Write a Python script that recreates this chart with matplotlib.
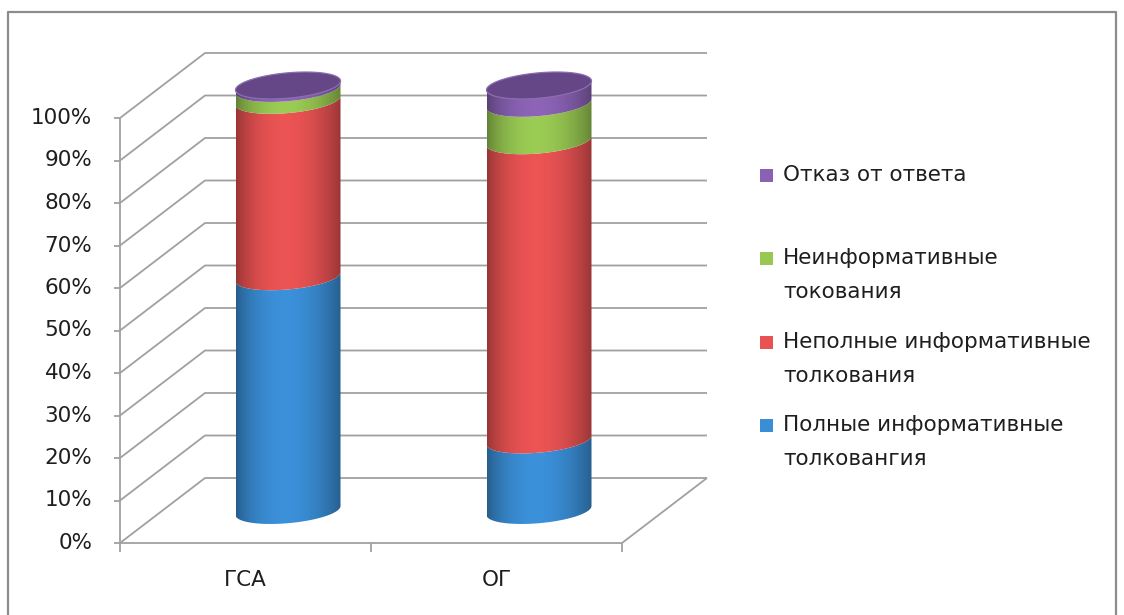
import numpy as np
import matplotlib
matplotlib.use("Agg")
import matplotlib.pyplot as plt
from matplotlib.patches import Polygon, Rectangle
from matplotlib.lines import Line2D

plt.rcParams["font.family"] = ["DejaVu Sans"]

categories = ["ГСА", "ОГ"]
series_names = ["Полные информативные\nтолковангия",
                "Неполные информативные\nтолкования",
                "Неинформативные\nтокования",
                "Отказ от ответа"]
full_info = [55.0, 16.6]
partial_info = [41.5, 70.4]
non_info = [2.8, 8.8]
refusal = [0.7, 4.2]
series = [full_info, partial_info, non_info, refusal]
series_colors = ["#3a8ed6", "#e85252", "#98c852", "#8a62b4"]
top_color = "#654787"
y_ticks = list(range(0, 101, 10))

W, H = 1124, 615
fig = plt.figure(figsize=(W / 100, H / 100), dpi=100)
ax = fig.add_axes([0, 0, 1, 1])

# chart units: one category slot = 1 on x, percent on y
px_x, px_y0, px_per_pct = 251.0, 543.0, 4.25
xlim = (-120 / px_x, (W - 120) / px_x)
ylim = ((px_y0 - H) / px_per_pct, px_y0 / px_per_pct)
ax.axis("off")

text_kw = dict(fontsize=15.5, color="#1e1e1e")

# oblique depth offset of the back wall
dx = 85 / px_x
dy = 65 / px_per_pct
x_back_end = (707 - 120) / px_x
grid_kw = dict(color="#a0a0a0", lw=1.3, solid_capstyle="butt")

for v in y_ticks:
    ax.plot([0, dx, x_back_end], [v, v + dy, v + dy], **grid_kw)
    ax.plot([-0.022, 0], [v, v], **grid_kw)
    ax.text(-0.11, v, f"{v}%", ha="right", va="center", **text_kw)

# front axis and floor
ax.plot([0, 0], [0, 100], **grid_kw)
ax.plot([0, 2, 2 + dx], [0, 0, dy], **grid_kw)
for xt in [0, 1, 2]:
    ax.plot([xt, xt], [0, -2.2], **grid_kw)
for i, cat in enumerate(categories):
    ax.text(i + 0.5, -8.7, cat, ha="center", va="center", **text_kw)

# cylinders
a = 52.5 / px_x          # half width
b = 12.7 / px_per_pct    # minor semi-axis of the ellipse
k = 4.5 / px_per_pct     # tilt of the ellipse
t_front = np.linspace(np.pi, 2 * np.pi, 80)
t_all = np.linspace(0, 2 * np.pi, 160)


def shade(color, n=200):
    rgb = np.array(matplotlib.colors.to_rgb(color))
    s = np.linspace(0, 1, n)
    f = 0.64 + 0.38 * np.sin(np.pi * s ** 0.9) ** 0.8
    img = np.clip(rgb[None, :] * f[:, None], 0, 1)
    return img[None, :, :]


for i in range(len(categories)):
    cx = i + 0.5 + dx / 2
    base = dy / 2
    bottom = 0.0
    for vals, color in zip(series, series_colors):
        top = bottom + vals[i]
        xs = cx + a * np.cos(t_front)
        y_lo = base + bottom + b * np.sin(t_front) + k * np.cos(t_front)
        y_hi = base + top + b * np.sin(t_front) + k * np.cos(t_front)
        verts = np.vstack([np.column_stack([xs, y_lo]),
                           np.column_stack([xs[::-1], y_hi[::-1]])])
        poly = Polygon(verts, closed=True, facecolor="none", edgecolor="none")
        ax.add_patch(poly)
        im = ax.imshow(shade(color), extent=[cx - a, cx + a, base + bottom - b - k,
                                              base + top + b + k],
                       aspect="auto", interpolation="bilinear", zorder=2)
        im.set_clip_path(poly)
        bottom = top
    # top face
    xs = cx + a * np.cos(t_all)
    ys = base + bottom + b * np.sin(t_all) + k * np.cos(t_all)
    ax.add_patch(Polygon(np.column_stack([xs, ys]), closed=True,
                         facecolor=top_color, edgecolor="#8a6cb0", lw=0.9, zorder=3))

ax.set_xlim(*xlim)
ax.set_ylim(*ylim)

# legend, top item first
legend_y = [175, 258, 342, 425]
for name, color, yl in zip(series_names[::-1], series_colors[::-1], legend_y):
    fig.patches.append(Rectangle(
        (760 / W, 1 - (yl + 6.5) / H), 13 / W, 13 / H,
        transform=fig.transFigure, facecolor=color, edgecolor="none"))
    for j, line in enumerate(name.split("\n")):
        fig.text(783 / W, 1 - (yl + 34 * j) / H, line, ha="left", va="center",
                 **text_kw)

# outer frame
frame_kw = dict(color="#8c8c8c", lw=1.6, transform=fig.transFigure)
fig.lines.append(Line2D([8 / W, 8 / W, 1116 / W, 1116 / W],
                        [0, 1 - 12 / H, 1 - 12 / H, 0], **frame_kw))

fig.savefig("out.png", dpi=100)
